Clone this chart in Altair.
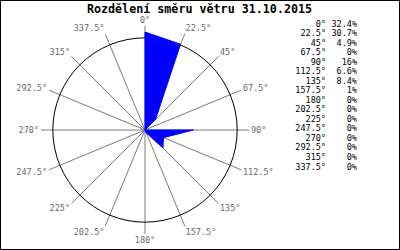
import altair as alt
import pandas as pd

# ---- data ----
angles = [0, 22.5, 45, 67.5, 90, 112.5, 135, 157.5, 180, 202.5, 225, 247.5, 270, 292.5, 315, 337.5]
values = [32.4, 30.7, 4.9, 0, 16, 6.6, 8.4, 1, 0, 0, 0, 0, 0, 0, 0, 0]
angle_labels = ["0°", "22.5°", "45°", "67.5°", "90°", "112.5°", "135°", "157.5°", "180°",
                "202.5°", "225°", "247.5°", "270°", "292.5°", "315°", "337.5°"]
pct_labels = ["32.4%", "30.7%", "4.9%", "0%", "16%", "6.6%", "8.4%", "1%", "0%",
              "0%", "0%", "0%", "0%", "0%", "0%", "0%"]
title_text = "Rozdělení směru větru 31.10.2015"

# ---- layout ----
W, H = 400, 250
CX, CY = 145, 130          # centre of the rose, px
R_PX = 104                 # radius of the outer circle, px
RMAX = 34.4                # percent value at the outer circle
K = R_PX / RMAX            # px per percent
FONT = "DejaVu Sans Mono"

df = pd.DataFrame({
    "angle": angles,
    "value": values,
    "alabel": angle_labels,
    "plabel": pct_labels,
    "row": list(range(len(angles))),
})

xs = alt.Scale(domain=[-CX / K, (W - CX) / K], nice=False, zero=False)
ys = alt.Scale(domain=[-(H - CY) / K, CY / K], nice=False, zero=False)

base = alt.Chart(df).transform_calculate(
    rad="datum.angle * PI / 180",
    px="datum.value * sin(datum.rad)",
    py="datum.value * cos(datum.rad)",
    ex=f"{RMAX} * sin(datum.rad)",
    ey=f"{RMAX} * cos(datum.rad)",
    lx=f"({RMAX} + {2.0 / K}) * sin(datum.rad)",
    ly=f"({RMAX} + {6.0 / K}) * cos(datum.rad)",
    zero="0",
)

spokes = base.mark_rule(color="#7a7a7a", strokeWidth=1).encode(
    x=alt.X("zero:Q", scale=xs, axis=None),
    y=alt.Y("zero:Q", scale=ys, axis=None),
    x2="ex:Q",
    y2="ey:Q",
)

circle = alt.Chart(pd.DataFrame({"c": [0]})).mark_point(
    shape="circle", filled=False, stroke="black", strokeWidth=1, opacity=1,
    size=3.14159 * R_PX * R_PX,
).encode(
    x=alt.X("c:Q", scale=xs, axis=None),
    y=alt.Y("c:Q", scale=ys, axis=None),
)

poly = base.mark_line(
    interpolate="linear-closed", fill="#0000ff", stroke="#0000ff", strokeWidth=1, fillOpacity=1
).encode(
    x=alt.X("px:Q", scale=xs, axis=None),
    y=alt.Y("py:Q", scale=ys, axis=None),
    order=alt.Order("angle:Q"),
)

def lab(filt, align):
    return base.transform_filter(filt).mark_text(
        font=FONT, fontSize=8.5, color="#6a6a6a", align=align, baseline="middle"
    ).encode(
        x=alt.X("lx:Q", scale=xs, axis=None),
        y=alt.Y("ly:Q", scale=ys, axis=None),
        text="alabel:N",
    )

lab_r = lab("datum.angle > 0 && datum.angle < 180", "left")
lab_l = lab("datum.angle > 180", "right")
lab_c = lab("datum.angle == 0 || datum.angle == 180", "center")

ly_scale = alt.Scale(domain=[0, 15], range=[23.5, 166.5])

leg_a = alt.Chart(df).mark_text(font=FONT, fontSize=8.5, color="black", align="right",
                                baseline="middle").encode(
    x=alt.value(326),
    y=alt.Y("row:Q", scale=ly_scale, axis=None),
    text="alabel:N",
)
leg_p = alt.Chart(df).mark_text(font=FONT, fontSize=8.5, color="black", align="right",
                                baseline="middle").encode(
    x=alt.value(357),
    y=alt.Y("row:Q", scale=ly_scale, axis=None),
    text="plabel:N",
)

title = alt.Chart(pd.DataFrame({"t": [title_text]})).mark_text(
    font=FONT, fontSize=11.7, fontWeight="bold", color="black", align="center", baseline="middle"
).encode(x=alt.value(199.5), y=alt.value(8.5), text="t:N")

chart = alt.layer(spokes, circle, poly, lab_r, lab_l, lab_c, leg_a, leg_p, title).resolve_scale(
    y="independent"
).properties(
    width=W, height=H, padding=0, autosize=alt.AutoSizeParams(type="none"), background="white"
).configure_view(stroke="black", strokeWidth=2)

chart.save("out.html", embed_options={"renderer": "svg", "actions": False})
